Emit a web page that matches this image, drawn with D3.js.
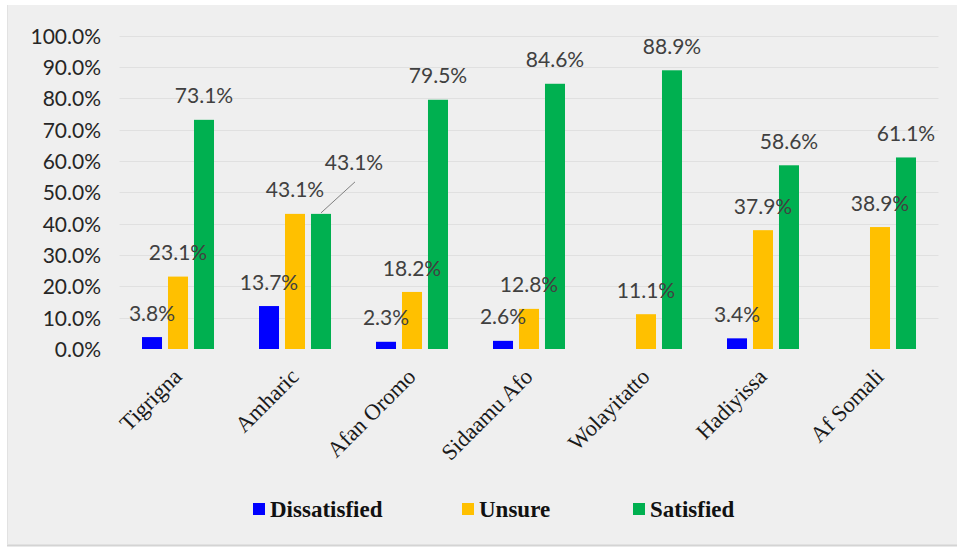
<!DOCTYPE html>
<html>
<head>
<meta charset="utf-8">
<script src="https://cdn.jsdelivr.net/npm/d3@7"></script>
<style>
  html, body { margin: 0; padding: 0; background: #ffffff; }
  svg { display: block; }
</style>
</head>
<body>
<svg id="chart" width="957" height="550"></svg>
<script>
// Languages on the x axis
const languages = ["Tigrigna", "Amharic", "Afan Oromo", "Sidaamu Afo", "Wolayitatto", "Hadiyissa", "Af Somali"];
// Share of respondents (%) per satisfaction level; null = no responses
const dissatisfied = [3.8, 13.7, 2.3, 2.6, null, 3.4, null];
const unsure       = [23.1, 43.1, 18.2, 12.8, 11.1, 37.9, 38.9];
const satisfied    = [73.1, 43.1, 79.5, 84.6, 88.9, 58.6, 61.1];
const seriesNames  = ["Dissatisfied", "Unsure", "Satisfied"];
const seriesColors = ["#0000ff", "#ffc000", "#00b050"];
const yTicks = [0, 10, 20, 30, 40, 50, 60, 70, 80, 90, 100];

const seriesValues = [dissatisfied, unsure, satisfied];
const rows = languages.map((lang, i) => ({
  lang,
  values: seriesNames.map((s, k) => ({ series: s, k, value: seriesValues[k][i] }))
}));

const svg = d3.select("#chart");

// chart panel
svg.append("rect").attr("x", 7).attr("y", 5).attr("width", 950).attr("height", 540)
  .attr("fill", "#efefef");
svg.append("line").attr("x1", 7).attr("x2", 957).attr("y1", 545.5).attr("y2", 545.5)
  .attr("stroke", "#d4d4d4").attr("stroke-width", 2);
svg.append("line").attr("x1", 7.5).attr("x2", 7.5).attr("y1", 5).attr("y2", 545)
  .attr("stroke", "#e2e2e2").attr("stroke-width", 1);

const x = d3.scaleBand().domain(languages).range([119.5, 938.5]).padding(0);
const groupW = 72;
const x1 = d3.scaleBand().domain(seriesNames)
  .range([(x.bandwidth() - groupW) / 2, (x.bandwidth() + groupW) / 2])
  .paddingInner(0.23).paddingOuter(0);
const y = d3.scaleLinear().domain([0, 100]).range([349, 35.5]);

// gridlines
svg.append("g").selectAll("line").data(yTicks.slice(1)).join("line")
  .attr("x1", 119.5).attr("x2", 938.5)
  .attr("y1", d => Math.round(y(d)) + 0.5).attr("y2", d => Math.round(y(d)) + 0.5)
  .attr("stroke", "#e0e0e0").attr("stroke-width", 1);

// y axis labels
const yAxis = d3.axisLeft(y).tickValues(yTicks).tickSize(0).tickPadding(0)
  .tickFormat(d => d.toFixed(1) + "%");
const yg = svg.append("g").attr("transform", "translate(101,0)").call(yAxis);
yg.select(".domain").remove();
yg.selectAll("text").attr("font-family", "Lato, 'Open Sans', sans-serif")
  .attr("font-size", 21).attr("fill", "#262626").attr("dy", "0.36em");

// bars
const groups = svg.append("g").selectAll("g").data(rows).join("g")
  .attr("transform", d => `translate(${x(d.lang)},0)`);

groups.selectAll("rect").data(d => d.values.filter(v => v.value != null)).join("rect")
  .attr("x", d => x1(d.series))
  .attr("width", x1.bandwidth())
  .attr("y", d => y(d.value))
  .attr("height", d => y(0) - y(d.value))
  .attr("fill", d => seriesColors[d.k]);

// data labels (the Amharic "Satisfied" label sits off to the right with a leader line)
const moved = { lang: "Amharic", series: "Satisfied", dx: 33, dy: -27 };
groups.each(function (row) {
  const g = d3.select(this);
  row.values.filter(v => v.value != null).forEach(v => {
    const cx = x1(v.series) + x1.bandwidth() / 2;
    const top = y(v.value);
    let lx = cx, ly = top - 24;
    if (row.lang === moved.lang && v.series === moved.series) {
      lx += moved.dx; ly += moved.dy;
      g.append("line")
        .attr("x1", cx).attr("y1", top - 1)
        .attr("x2", lx + 1).attr("y2", ly + 19)
        .attr("stroke", "#808080").attr("stroke-width", 1);
    }
    g.append("text")
      .attr("x", lx).attr("y", ly).attr("dy", "0.36em")
      .attr("text-anchor", "middle")
      .attr("font-family", "Lato, 'Open Sans', sans-serif")
      .attr("font-size", 21).attr("fill", "#404040")
      .text(v.value.toFixed(1) + "%");
  });
});

// category labels, rotated
svg.append("g").selectAll("text").data(languages).join("text")
  .attr("transform", d => `translate(${x(d) + x.bandwidth() / 2 + 5},${378}) rotate(-45)`)
  .attr("text-anchor", "end")
  .attr("font-family", "'Liberation Serif', 'Times New Roman', serif")
  .attr("font-size", 22.5).attr("fill", "#1a1a1a")
  .text(d => d);

// legend
const legendX = [253, 462, 633];
const legend = svg.append("g").selectAll("g").data(seriesNames).join("g")
  .attr("transform", (d, i) => `translate(${legendX[i]},${509})`);
legend.append("rect").attr("x", 0).attr("y", -6).attr("width", 12).attr("height", 12)
  .attr("fill", (d, i) => seriesColors[i]);
legend.append("text").attr("x", 17).attr("y", 0).attr("dy", "0.35em")
  .attr("font-family", "'Liberation Serif', 'Times New Roman', serif")
  .attr("font-weight", "bold").attr("font-size", 23).attr("fill", "#111")
  .text(d => d);
</script>
</body>
</html>
